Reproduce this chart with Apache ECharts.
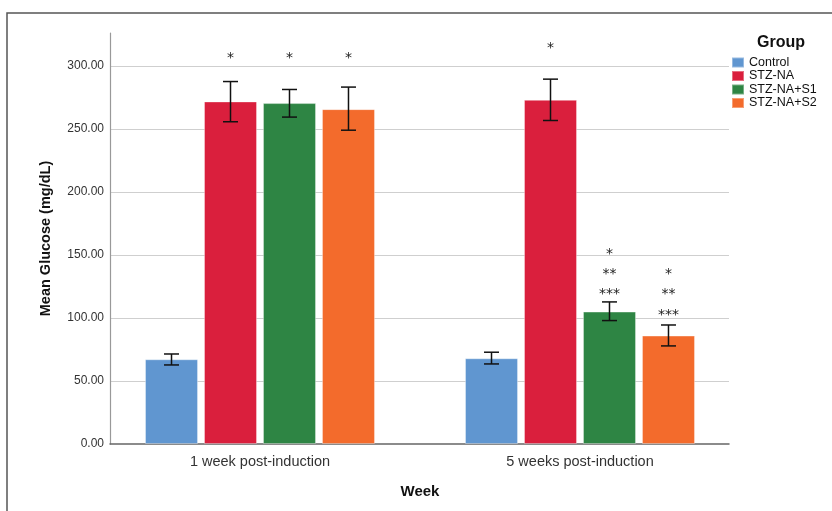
<!DOCTYPE html>
<html>
<head>
<meta charset="utf-8">
<script src="https://cdn.jsdelivr.net/npm/echarts@6/dist/echarts.min.js"></script>
<style>
  html, body { margin: 0; padding: 0; background: #fff; }
  #chart { width: 832px; height: 511px; }
</style>
</head>
<body>
<div id="chart"></div>
<script>
// Mean fasting glucose per group, with error bars
const categories = ['1 week post-induction', '5 weeks post-induction'];
const groups = ['Control', 'STZ-NA', 'STZ-NA+S1', 'STZ-NA+S2'];
const colors = ['#6096d0', '#da1f3d', '#2e8544', '#f36b2c'];

const meanControl = [67.2, 68.0];
const meanSTZ     = [271.7, 273.0];
const meanS1      = [270.4, 105.0];
const meanS2      = [265.6, 86.0];

const lowControl  = [62.7, 63.5];
const highControl = [71.4, 72.8];
const lowSTZ      = [255.6, 256.6];
const highSTZ     = [287.5, 289.4];
const lowS1       = [259.3, 97.9];
const highS1      = [281.2, 112.7];
const lowS2       = [248.9, 77.8];
const highS2      = [283.1, 94.4];

const yTicks = [0, 50, 100, 150, 200, 250, 300];

// significance marks: week index, group index, text, level on the value scale
const starWeek  = [0, 0, 0, 1, 1, 1, 1, 1, 1, 1];
const starGroup = [1, 2, 3, 1, 2, 2, 2, 3, 3, 3];
const starText  = ['*', '*', '*', '*', '*', '**', '***', '*', '**', '***'];
const starLevel = [305.5, 305.5, 305.5, 313.5, 150.1, 134.2, 118.3, 134.2, 118.3, 102.4];

const means = [meanControl, meanSTZ, meanS1, meanS2];
const lows  = [lowControl, lowSTZ, lowS1, lowS2];
const highs = [highControl, highSTZ, highS1, highS2];

const FONT = '"Liberation Sans", Arial, sans-serif';
const STAR_FONT = '14px "DejaVu Sans", sans-serif';
const BAR_W = 53;
const BAR_GAP = '11.3%';
const Y_MAX = 326;

const errData = [];
for (let g = 0; g < groups.length; g++) {
  for (let c = 0; c < categories.length; c++) {
    errData.push([c, g, lows[g][c], highs[g][c]]);
  }
}
const starData = starWeek.map((w, i) => [w, starGroup[i], starLevel[i], starText[i]]);

const chart = echarts.init(document.getElementById('chart'), null, { renderer: 'canvas' });

const barSeries = groups.map((name, g) => ({
  name: name,
  type: 'bar',
  xAxisIndex: 0,
  yAxisIndex: 0,
  barWidth: BAR_W,
  barGap: BAR_GAP,
  data: means[g],
  itemStyle: { color: colors[g], borderColor: 'rgba(255,255,255,0.35)', borderWidth: 1 },
  emphasis: { disabled: true },
  z: 2
}));

function offsetFor(api, g) {
  const layout = api.barLayout({ barWidth: BAR_W, barGap: BAR_GAP, count: groups.length });
  return layout[g].offsetCenter;
}

const option = {
  animation: false,
  textStyle: { fontFamily: FONT },
  graphic: [{
    type: 'rect',
    shape: { x: 7, y: 13, width: 900, height: 600 },
    style: { fill: 'none', stroke: '#555', lineWidth: 1.5 },
    silent: true
  }],
  title: {
    text: 'Group',
    left: 752, top: 30,
    textStyle: { fontFamily: FONT, fontSize: 16, fontWeight: 'bold', color: '#111' }
  },
  legend: {
    data: groups,
    orient: 'vertical',
    left: 731, top: 56,
    padding: 0,
    itemWidth: 12, itemHeight: 10, itemGap: 0.5,
    icon: 'rect',
    selectedMode: false,
    textStyle: { fontFamily: FONT, fontSize: 12.5, color: '#111', lineHeight: 13 }
  },
  grid: [
    { left: 100, right: 92, top: 33, bottom: 67 },
    { left: 110, right: 103, top: 33, bottom: 67 }
  ],
  xAxis: [{
    type: 'category',
    gridIndex: 0,
    data: categories,
    axisLine: { show: false },
    axisTick: { show: false },
    axisLabel: { fontFamily: FONT, fontSize: 14.5, color: '#333', margin: 10 },
    name: 'Week',
    nameLocation: 'middle',
    nameGap: 40,
    nameTextStyle: { fontFamily: FONT, fontSize: 15, fontWeight: 'bold', color: '#111' }
  }, {
    type: 'category',
    gridIndex: 1,
    data: categories,
    axisLine: { show: true, lineStyle: { color: '#666', width: 1.5 } },
    axisTick: { show: false },
    axisLabel: { show: false }
  }],
  yAxis: [{
    type: 'value',
    gridIndex: 0,
    min: 0, max: Y_MAX,
    show: false
  }, {
    type: 'value',
    gridIndex: 1,
    min: 0, max: Y_MAX, interval: 50,
    axisLine: { show: true, lineStyle: { color: '#999', width: 1.2 } },
    axisTick: { show: false },
    splitLine: { show: true, showMaxLine: false, showMinLine: false, lineStyle: { color: '#cfcfcf', width: 1.2 } },
    axisLabel: {
      fontFamily: FONT, fontSize: 12, color: '#333', margin: 6,
      showMaxLabel: false,
      formatter: v => (yTicks.indexOf(v) >= 0 ? v.toFixed(2) : '')
    },
    name: 'Mean Glucose (mg/dL)',
    nameLocation: 'middle',
    nameGap: 57,
    nameTextStyle: { fontFamily: FONT, fontSize: 14.5, fontWeight: 'bold', color: '#111' }
  }],
  series: barSeries.concat([{
    type: 'custom',
    name: 'error',
    xAxisIndex: 0,
    yAxisIndex: 0,
    data: errData,
    encode: { x: 0, y: [2, 3] },
    z: 5,
    silent: true,
    renderItem: function (params, api) {
      const c = api.value(0);
      const g = api.value(1);
      const off = offsetFor(api, g);
      const lo = api.coord([c, api.value(2)]);
      const hi = api.coord([c, api.value(3)]);
      const x = lo[0] + off;
      const half = 7.5;
      const st = { stroke: '#111', lineWidth: 1.5 };
      return {
        type: 'group',
        children: [
          { type: 'line', shape: { x1: x, y1: lo[1], x2: x, y2: hi[1] }, style: st },
          { type: 'line', shape: { x1: x - half, y1: lo[1], x2: x + half, y2: lo[1] }, style: st },
          { type: 'line', shape: { x1: x - half, y1: hi[1], x2: x + half, y2: hi[1] }, style: st }
        ]
      };
    }
  }, {
    type: 'custom',
    name: 'stars',
    xAxisIndex: 0,
    yAxisIndex: 0,
    data: starData,
    encode: { x: 0, y: 2 },
    z: 6,
    silent: true,
    renderItem: function (params, api) {
      const c = api.value(0);
      const g = api.value(1);
      const off = offsetFor(api, g);
      const p = api.coord([c, api.value(2)]);
      return {
        type: 'text',
        style: {
          x: p[0] + off, y: p[1],
          text: starData[params.dataIndex][3],
          fill: '#222',
          font: STAR_FONT,
          align: 'center',
          verticalAlign: 'middle'
        }
      };
    }
  }])
};

chart.setOption(option);
</script>
</body>
</html>
